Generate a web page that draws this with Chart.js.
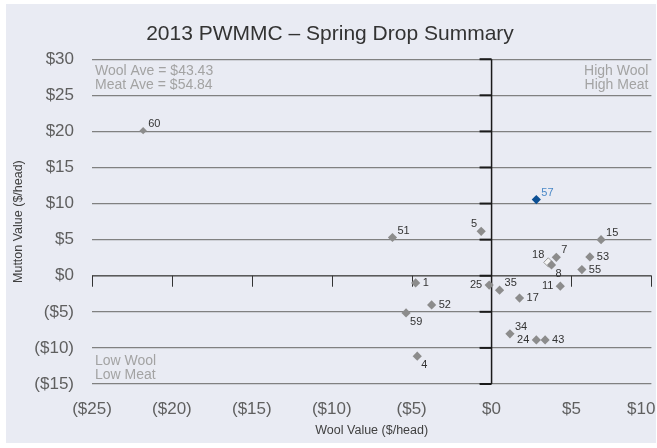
<!DOCTYPE html>
<html>
<head>
<meta charset="utf-8">
<script src="https://cdn.jsdelivr.net/npm/chart.js@4/dist/chart.umd.min.js"></script>
<style>
html, body { margin: 0; padding: 0; background: #fff; }
</style>
</head>
<body>
<canvas id="chart_1" width="657" height="448"></canvas>
<script>
// sheep ids, wool value and mutton value ($/head)
var sheepIds = ['60', '51', '5', '57', '15', '7', '18', '8', '53', '55', '1', '25', '35', '11', '17', '52', '59', '34', '24', '43', '4'];
var woolValues = [-21.8, -6.2, -0.65, 2.8, 6.85, 4.05, 3.55, 3.75, 6.15, 5.65, -4.75, -0.15, 0.5, 4.3, 1.75, -3.75, -5.35, 1.15, 2.8, 3.35, -4.65];
var muttonValues = [20.1, 5.3, 6.15, 10.55, 5.0, 2.55, 1.85, 1.5, 2.6, 0.85, -1.0, -1.3, -2.0, -1.45, -3.1, -4.05, -5.15, -8.05, -8.9, -8.9, -11.15];
var highlightId = '57';

var xTickValues = [-25, -20, -15, -10, -5, 0, 5, 10];
var yTickValues = [-15, -10, -5, 0, 5, 10, 15, 20, 25, 30];

// where each id label sits next to its marker
var labelPlace = ['ne', 'ne', 'nw', 'ne', 'ne', 'ne', 'nw', 'se', 'e', 'e', 'e', 'w', 'ne', 'w', 'e', 'e', 'se', 'ne', 'w', 'e', 'se'];
var placeOffsets = {
	ne: { dx: 5, dy: -7, align: 'left' },
	nw: { dx: -4, dy: -7, align: 'right' },
	e: { dx: 7, dy: 0, align: 'left' },
	w: { dx: -7, dy: 0, align: 'right' },
	se: { dx: 4, dy: 9, align: 'left' }
};

var FONT = "'Liberation Sans', Arial, sans-serif";

function money(v) {
	return v < 0 ? '($' + (-v) + ')' : '$' + v;
}

var points = [];
for (var i = 0; i < sheepIds.length; i++) {
	points.push({ x: woolValues[i], y: muttonValues[i] });
}

var backgroundPlugin = {
	id: 'panelBackground',
	beforeDraw: function(chart) {
		var ctx = chart.ctx;
		ctx.save();
		ctx.fillStyle = '#e9ebf3';
		ctx.fillRect(6, 4, 650, 439);
		ctx.restore();
	}
};

var axesPlugin = {
	id: 'crossAxes',
	beforeDatasetsDraw: function(chart) {
		var ctx = chart.ctx;
		var xs = chart.scales.x, ys = chart.scales.y;
		var area = chart.chartArea;
		var x0 = xs.getPixelForValue(0);
		var y0 = ys.getPixelForValue(0);
		ctx.save();
		// horizontal axis at zero with downward ticks
		ctx.strokeStyle = '#5a5a5a';
		ctx.lineWidth = 1.5;
		ctx.beginPath();
		ctx.moveTo(area.left, y0);
		ctx.lineTo(area.right, y0);
		ctx.stroke();
		ctx.strokeStyle = '#333';
		ctx.lineWidth = 1;
		xTickValues.forEach(function(v) {
			if (v === 0) return;
			var px = Math.round(xs.getPixelForValue(v)) + 0.5;
			ctx.beginPath();
			ctx.moveTo(px, y0);
			ctx.lineTo(px, y0 + 11);
			ctx.stroke();
		});
		// vertical axis at zero with ticks to the left
		ctx.strokeStyle = '#1a1a1a';
		ctx.lineWidth = 1.5;
		ctx.beginPath();
		ctx.moveTo(x0, area.top);
		ctx.lineTo(x0, area.bottom);
		ctx.stroke();
		ctx.lineWidth = 2;
		yTickValues.forEach(function(v) {
			var py = ys.getPixelForValue(v);
			ctx.beginPath();
			ctx.moveTo(x0 - 12, py);
			ctx.lineTo(x0, py);
			ctx.stroke();
		});
		ctx.restore();
	},
	afterDatasetsDraw: function(chart) {
		var ctx = chart.ctx;
		var area = chart.chartArea;
		var meta = chart.getDatasetMeta(0);
		ctx.save();
		ctx.textBaseline = 'middle';
		ctx.font = '11px ' + FONT;
		meta.data.forEach(function(el, i) {
			var p = placeOffsets[labelPlace[i]];
			ctx.fillStyle = sheepIds[i] === highlightId ? '#4a88c7' : '#333';
			ctx.textAlign = p.align;
			ctx.fillText(sheepIds[i], el.x + p.dx, el.y + p.dy);
		});
		// quadrant notes
		ctx.font = '14px ' + FONT;
		ctx.fillStyle = '#a3a3a3';
		ctx.textAlign = 'left';
		ctx.fillText('Wool Ave = $43.43', area.left + 3, area.top + 12);
		ctx.fillText('Meat Ave = $54.84', area.left + 3, area.top + 26);
		ctx.fillText('Low Wool', area.left + 3, area.bottom - 23);
		ctx.fillText('Low Meat', area.left + 3, area.bottom - 9);
		ctx.textAlign = 'right';
		ctx.fillText('High Wool', area.right - 3, area.top + 12);
		ctx.fillText('High Meat', area.right - 3, area.top + 26);
		ctx.restore();
	}
};

var data = {
	datasets: [{
		label: 'Spring Drop',
		data: points,
		pointStyle: 'rectRot',
		pointRadius: function(c) { return sheepIds[c.dataIndex] === '60' ? 3.7 : 4.6; },
		backgroundColor: function(c) {
			var id = sheepIds[c.dataIndex];
			if (id === highlightId) return '#0b4f94';
			if (id === '18') return '#f4f4f4';
			return '#8c8c8c';
		},
		borderColor: function(c) { return sheepIds[c.dataIndex] === '18' ? '#9a9a9a' : 'rgba(0,0,0,0)'; },
		borderWidth: function(c) { return sheepIds[c.dataIndex] === '18' ? 1 : 0; },
		showLine: false
	}]
};

var option = {
	responsive: false,
	animation: false,
	layout: { padding: { left: 8, right: 5, top: 8, bottom: 8 } },
	plugins: {
		legend: { display: false },
		tooltip: { enabled: false },
		title: {
			display: true,
			text: '2013 PWMMC \u2013 Spring Drop Summary',
			color: '#333',
			font: { family: FONT, size: 21, weight: 'normal' },
			padding: { top: 14, bottom: 12 }
		}
	},
	scales: {
		x: {
			type: 'linear',
			min: -25,
			max: 10,
			afterBuildTicks: function(s) { s.ticks = xTickValues.map(function(v) { return { value: v }; }); },
			afterFit: function(s) { s.height = 56; s.paddingLeft = 0; s.paddingRight = 0; },
			grid: { display: false, drawTicks: false },
			border: { display: false },
			ticks: {
				padding: 15,
				maxRotation: 0,
				color: '#5f5f5f',
				font: { family: FONT, size: 17 },
				// last label is pulled in from the edge, as in the original
				callback: function(v) { return v === 10 ? money(v) + '\u2002\u2002\u2009' : money(v); }
			},
			title: {
				display: true,
				text: 'Wool Value ($/head)',
				color: '#404040',
				font: { family: FONT, size: 12.5 },
				padding: { top: 0, bottom: 2 }
			}
		},
		y: {
			type: 'linear',
			min: -15,
			max: 30,
			afterBuildTicks: function(s) { s.ticks = yTickValues.map(function(v) { return { value: v }; }); },
			afterFit: function(s) { s.width = 84; },
			grid: { color: '#808080', lineWidth: 1.3, drawTicks: false },
			border: { display: false },
			ticks: {
				padding: 18,
				color: '#5f5f5f',
				font: { family: FONT, size: 17 },
				callback: function(v) { return money(v); }
			},
			title: {
				display: true,
				text: 'Mutton Value ($/head)',
				color: '#404040',
				font: { family: FONT, size: 12.5 },
				padding: { top: 3, bottom: 0 }
			}
		}
	}
};

var springChart = new Chart('chart_1', {
	type: 'scatter',
	data: data,
	options: option,
	plugins: [backgroundPlugin, axesPlugin]
});
</script>
</body>
</html>
